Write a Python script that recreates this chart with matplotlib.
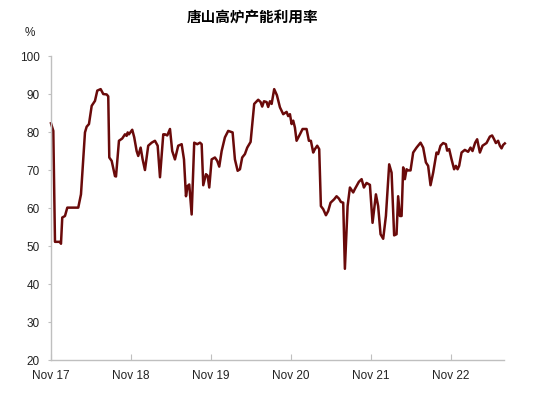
import matplotlib.pyplot as plt

plt.rcParams['font.family'] = ['Liberation Sans', 'Noto Sans CJK SC', 'DejaVu Sans']

# time as decimal year (Nov 17 = 2017.833), weekly-ish readings
t = [2017.833, 2017.862, 2017.883, 2017.946, 2017.958, 2017.974, 2018.008, 2018.037,
     2018.174, 2018.208, 2018.258, 2018.279, 2018.308, 2018.342, 2018.383, 2018.412,
     2018.454, 2018.487, 2018.529, 2018.549, 2018.562, 2018.592, 2018.633, 2018.646,
     2018.683, 2018.724, 2018.758, 2018.779, 2018.792, 2018.808, 2018.849, 2018.874,
     2018.904, 2018.924, 2018.954, 2018.979, 2019.008, 2019.049, 2019.092, 2019.133,
     2019.167, 2019.196, 2019.237, 2019.258, 2019.287, 2019.321, 2019.349, 2019.383,
     2019.424, 2019.467, 2019.496, 2019.521, 2019.542, 2019.562, 2019.592, 2019.624,
     2019.662, 2019.696, 2019.717, 2019.737, 2019.771, 2019.792, 2019.812, 2019.842,
     2019.883, 2019.912, 2019.937, 2019.967, 2020.008, 2020.049, 2020.104, 2020.133,
     2020.167, 2020.196, 2020.224, 2020.258, 2020.287, 2020.329, 2020.374, 2020.424,
     2020.454, 2020.474, 2020.496, 2020.529, 2020.549, 2020.571, 2020.592, 2020.624,
     2020.658, 2020.696, 2020.737, 2020.779, 2020.799, 2020.821, 2020.842, 2020.862,
     2020.883, 2020.904, 2020.946, 2020.979, 2021.029, 2021.058, 2021.083, 2021.112,
     2021.133, 2021.162, 2021.187, 2021.208, 2021.237, 2021.271, 2021.299, 2021.329,
     2021.354, 2021.374, 2021.404, 2021.433, 2021.458, 2021.487, 2021.508, 2021.542,
     2021.571, 2021.612, 2021.633, 2021.654, 2021.683, 2021.717, 2021.746, 2021.779,
     2021.821, 2021.854, 2021.896, 2021.924, 2021.954, 2021.987, 2022.021, 2022.062,
     2022.092, 2022.124, 2022.154, 2022.174, 2022.196, 2022.217, 2022.237, 2022.258,
     2022.279, 2022.299, 2022.329, 2022.362, 2022.404, 2022.454, 2022.487, 2022.521,
     2022.549, 2022.579, 2022.612, 2022.654, 2022.674, 2022.704, 2022.737, 2022.771,
     2022.787, 2022.812, 2022.842, 2022.874, 2022.896, 2022.917, 2022.937, 2022.967,
     2023.008, 2023.049, 2023.079, 2023.104, 2023.137, 2023.162, 2023.196, 2023.229,
     2023.279, 2023.321, 2023.349, 2023.374, 2023.396, 2023.424, 2023.446, 2023.467,
     2023.487, 2023.508]

rate = [82.2, 80.2, 51.0, 51.0, 50.5, 57.4, 57.8, 60.0,
        60.0, 63.5, 79.8, 81.3, 82.0, 86.8, 88.1, 90.8,
        91.2, 89.9, 89.8, 89.3, 73.2, 72.3, 68.3, 68.2,
        77.6, 78.2, 79.3, 78.9, 79.8, 79.3, 80.5, 78.5,
        74.9, 73.6, 75.8, 72.7, 69.9, 76.3, 77.1, 77.6,
        76.3, 68.0, 79.3, 79.3, 79.0, 80.7, 74.9, 72.7,
        76.3, 76.7, 72.7, 63.0, 65.7, 66.1, 58.2, 77.1,
        76.7, 77.1, 76.7, 65.9, 68.8, 68.4, 65.3, 72.7,
        73.2, 72.3, 70.8, 74.9, 78.5, 80.2, 79.8, 72.7,
        69.7, 70.1, 73.2, 74.1, 75.8, 77.3, 87.3, 88.4,
        87.8, 86.6, 88.0, 87.8, 86.5, 88.0, 87.3, 91.2,
        89.6, 86.4, 84.6, 85.2, 84.1, 84.6, 82.0, 82.9,
        81.1, 77.6, 79.3, 80.7, 80.7, 77.6, 77.6, 74.5,
        75.4, 76.3, 75.4, 60.4, 59.6, 58.0, 59.1, 61.3,
        61.8, 62.2, 63.0, 62.4, 61.5, 61.3, 43.9, 60.4,
        65.3, 64.0, 64.9, 65.7, 66.8, 67.5, 65.3, 66.5,
        66.0, 56.0, 63.5, 60.4, 53.0, 51.8, 57.8, 71.4,
        69.2, 52.7, 53.0, 63.0, 57.8, 57.8, 70.6, 67.5,
        70.1, 69.8, 69.8, 74.5, 75.8, 77.1, 75.8, 71.9,
        71.0, 65.9, 69.2, 74.5, 74.1, 76.3, 77.0, 76.7,
        75.0, 75.4, 72.7, 70.1, 71.0, 70.1, 71.0, 74.5,
        75.2, 74.7, 75.8, 74.9, 77.1, 78.0, 74.5, 76.3,
        77.0, 78.7, 79.0, 78.0, 77.0, 77.6, 76.3, 75.6,
        76.5, 76.9]

tick_pos = [2017.833, 2018.833, 2019.833, 2020.833, 2021.833, 2022.833]
tick_labels = ['Nov 17', 'Nov 18', 'Nov 19', 'Nov 20', 'Nov 21', 'Nov 22']

fig = plt.figure(figsize=(5.5, 4.02), dpi=100)
ax = fig.add_axes([0.0927, 0.103, 0.824, 0.756])

ax.plot(t, rate, color='#6A0A0A', linewidth=1.8, clip_on=False)

ax.set_xlim(2017.833, 2023.5)
ax.set_ylim(20, 100)
ax.set_yticks(range(20, 101, 10))
ax.set_xticks(tick_pos)
ax.set_xticklabels(tick_labels)

for s in ['top', 'right']:
    ax.spines[s].set_visible(False)
for s in ['left', 'bottom']:
    ax.spines[s].set_color('#BFBFBF')
    ax.spines[s].set_linewidth(1.0)

ax.tick_params(axis='y', direction='out', length=2, pad=6, color='#BFBFBF',
               labelsize=8.5, labelcolor='#222222')
ax.tick_params(axis='x', direction='in', length=4, pad=7, color='#BFBFBF',
               labelsize=8.5, labelcolor='#222222')

fig.text(0.46, 0.955, '唐山高炉产能利用率', ha='center', va='center',
         fontsize=10.5, fontweight='bold')
fig.text(0.055, 0.918, '%', ha='center', va='center', fontsize=8.5, color='#222222')

fig.savefig('out.png', dpi=100)
